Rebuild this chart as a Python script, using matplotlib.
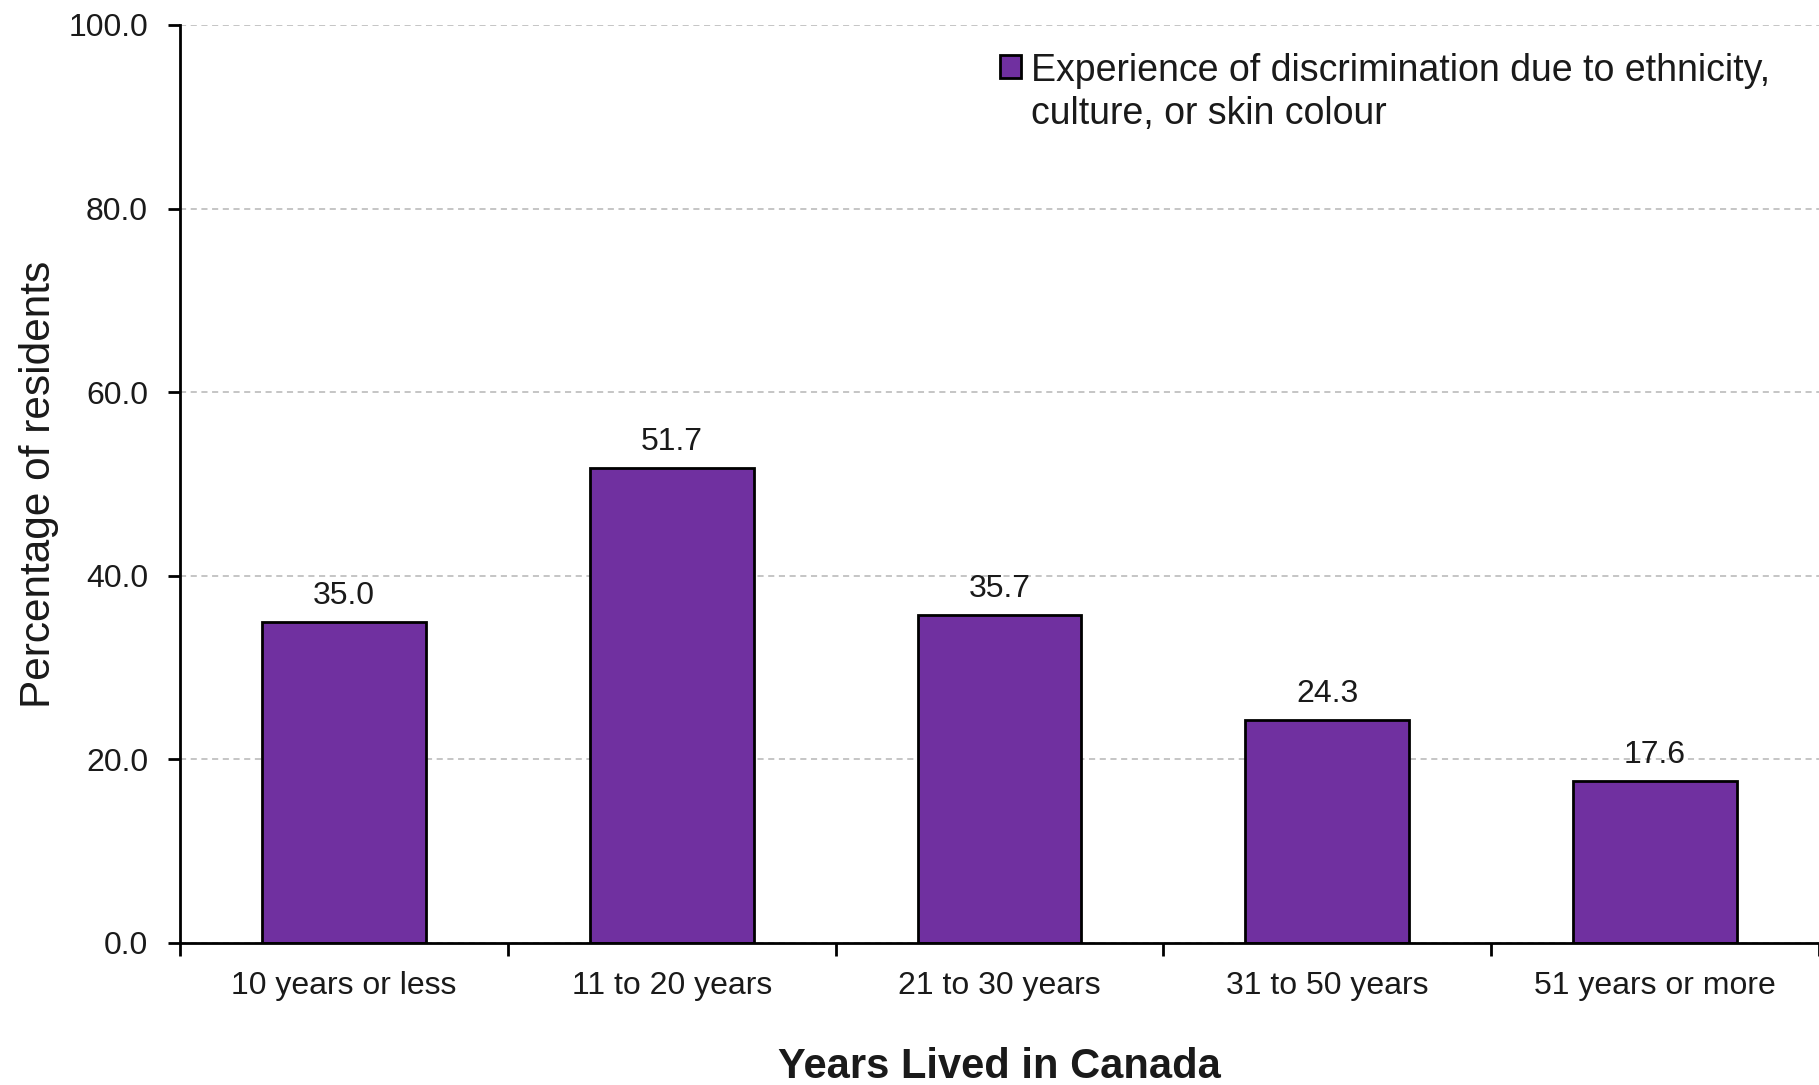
import matplotlib
matplotlib.use("Agg")
import matplotlib.pyplot as plt
from matplotlib.patches import Rectangle
from matplotlib.legend_handler import HandlerPatch
from matplotlib.ticker import FormatStrFormatter
import numpy as np

# data
categories = ["10 years or less", "11 to 20 years", "21 to 30 years",
              "31 to 50 years", "51 years or more"]
values = [35.0, 51.7, 35.7, 24.3, 17.6]
series_label = "Experience of discrimination due to ethnicity,\nculture, or skin colour"
y_ticks = [0, 20, 40, 60, 80, 100]

plt.rcParams['font.family'] = ['Liberation Sans', 'DejaVu Sans']

BAR_COLOR = "#7030A0"
LEG_FS = 27
LEG_SPACING = 1.25


def raised_square(legend, orig_handle, xdescent, ydescent, width, height, fontsize):
    # legend centres the handle on the two text lines; lift it to the first line
    shift = 0.5 * LEG_SPACING * fontsize + 0.09 * fontsize
    return Rectangle((-xdescent, -ydescent + shift), width, height)


fig = plt.figure(figsize=(18.19, 10.85), dpi=100)
ax = fig.add_axes([180 / 1819, 142 / 1085, 1639 / 1819, 918 / 1085])

x = np.arange(len(categories))
bars = ax.bar(x, values, width=0.5, color=BAR_COLOR, edgecolor="black",
              linewidth=2, zorder=3)

for rect, v in zip(bars, values):
    ax.annotate(f"{v:.1f}", (rect.get_x() + rect.get_width() / 2, v),
                xytext=(0, 8), textcoords="offset points",
                ha="center", va="bottom", fontsize=23, color="#1a1a1a", zorder=4)

ax.set_xlim(-0.5, len(categories) - 0.5)
ax.set_ylim(0, 100)
ax.set_yticks(y_ticks)
ax.yaxis.set_major_formatter(FormatStrFormatter("%.1f"))
ax.yaxis.grid(True, linestyle=(0, (4, 3)), color="#b5b5b5", linewidth=1.1, zorder=0)

ax.set_xticks(x)
ax.set_xticklabels(categories)
ax.set_xticks(np.arange(-0.5, len(categories), 1.0), minor=True)
ax.tick_params(axis="x", which="major", length=0, pad=20, labelsize=23, labelcolor="#1a1a1a")
ax.tick_params(axis="x", which="minor", length=9, width=2, direction="out")
ax.tick_params(axis="y", which="major", length=9, width=2, pad=14, labelsize=23, labelcolor="#1a1a1a")

for side in ("top", "right"):
    ax.spines[side].set_visible(False)
for side in ("left", "bottom"):
    ax.spines[side].set_linewidth(2)
    ax.spines[side].set_zorder(5)

ax.set_ylabel("Percentage of residents", fontsize=30.5, color="#1a1a1a")
ax.yaxis.set_label_coords(-0.074, 0.5)
ax.set_xlabel("Years Lived in Canada", fontsize=30, fontweight="bold", color="#1a1a1a")
ax.xaxis.set_label_coords(0.5, -0.113)

leg = ax.legend([bars.patches[0]], [series_label],
                loc="upper left", bbox_to_anchor=(0.5003, 0.969), frameon=False,
                fontsize=LEG_FS, borderpad=0, borderaxespad=0,
                handlelength=0.56, handleheight=0.56, handletextpad=0.28,
                handler_map={Rectangle: HandlerPatch(patch_func=raised_square)})
for t in leg.get_texts():
    t.set_linespacing(LEG_SPACING)
    t.set_color("#1a1a1a")

fig.savefig("out.png", dpi=100)
